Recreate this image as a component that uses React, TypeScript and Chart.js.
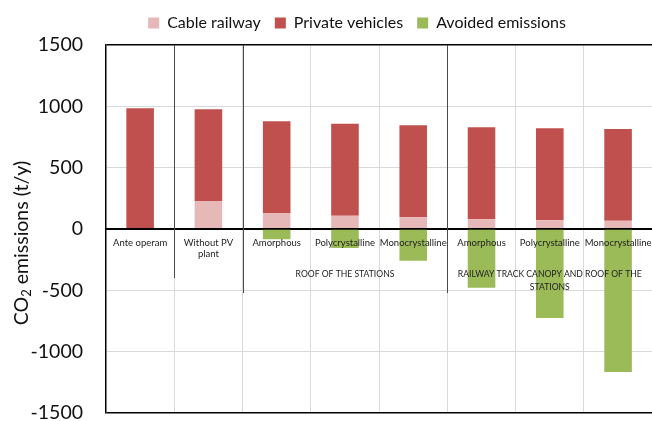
import React, { useEffect, useRef } from "react";
import { Chart, registerables } from "chart.js";

Chart.register(...registerables);

const categories: (string | string[])[] = [
  "Ante operam",
  ["Without PV", "plant"],
  "Amorphous",
  "Polycrystalline",
  "Monocrystalline",
  "Amorphous",
  "Polycrystalline",
  "Monocrystalline",
];

const cableRailway = [0, 228, 130, 108, 95, 80, 72, 67];
const privateVehicles = [985, 748, 748, 750, 750, 749, 749, 748];
const avoidedEmissions = [0, 0, -84, -155, -258, -478, -725, -1165];

const groupLabels = [
  { from: 2, to: 4, lines: ["ROOF OF THE STATIONS"] },
  { from: 5, to: 7, lines: ["RAILWAY TRACK CANOPY AND ROOF OF THE", "STATIONS"] },
];
const separators = [
  { at: 1, long: false },
  { at: 2, long: true },
  { at: 5, long: true },
];

const yTicks = { min: -1500, max: 1500, step: 500 };
const yTitleMain = "CO";
const yTitleSub = "2";
const yTitleRest = " emissions (t/y)";

const FONT = "Lato, 'Open Sans', sans-serif";

const extrasPlugin = {
  id: "extras",
  afterLayout(chart: any) {
    const lg = chart.legend;
    if (lg) {
      const shift = 357 - (lg.left + lg.right) / 2;
      lg.left += shift;
      lg.right += shift;
    }
  },
  afterDraw(chart: any) {
    const ctx = chart.ctx as CanvasRenderingContext2D;
    const area = chart.chartArea;
    const y = chart.scales.y;
    const zeroY = y.getPixelForValue(0);
    const catW = (area.right - area.left) / categories.length;
    ctx.save();
    ctx.strokeStyle = "#4a4a4a";
    ctx.lineWidth = 1;
    separators.forEach((s) => {
      const px = Math.round(area.left + s.at * catW) + 0.5;
      ctx.beginPath();
      ctx.moveTo(px, area.top);
      ctx.lineTo(px, zeroY + (s.long ? 64 : 49));
      ctx.stroke();
    });
    ctx.fillStyle = "#222";
    ctx.font = `8.6px ${FONT}`;
    ctx.textAlign = "center";
    ctx.textBaseline = "middle";
    groupLabels.forEach((g) => {
      const cx = area.left + ((g.from + g.to + 1) / 2) * catW;
      g.lines.forEach((ln, i) => {
        ctx.fillText(ln, cx, zeroY + 45 + i * 13);
      });
    });
    ctx.translate(22, 243);
    ctx.rotate(-Math.PI / 2);
    const big = `19.5px ${FONT}`;
    const small = `13px ${FONT}`;
    ctx.font = big;
    const w1 = ctx.measureText(yTitleMain).width;
    const w3 = ctx.measureText(yTitleRest).width;
    ctx.font = small;
    const w2 = ctx.measureText(yTitleSub).width;
    let sx = -(w1 + w2 + w3) / 2;
    ctx.textAlign = "left";
    ctx.fillStyle = "#111";
    ctx.font = big;
    ctx.fillText(yTitleMain, sx, 0);
    sx += w1;
    ctx.font = small;
    ctx.fillText(yTitleSub, sx, 5);
    sx += w2;
    ctx.font = big;
    ctx.fillText(yTitleRest, sx, 0);
    ctx.restore();
  },
};

export default function App() {
  const ref = useRef<HTMLCanvasElement>(null);
  useEffect(() => {
    if (!ref.current) return;
    const chart = new Chart(ref.current, {
      type: "bar",
      data: {
        labels: categories as any,
        datasets: [
          { label: "Cable railway", data: cableRailway, backgroundColor: "#E6B9B8", xAxisID: "x", yAxisID: "y" },
          { label: "Private vehicles", data: privateVehicles, backgroundColor: "#C0504D", xAxisID: "x", yAxisID: "y" },
          { label: "Avoided emissions", data: avoidedEmissions, backgroundColor: "#9BBB59", xAxisID: "x", yAxisID: "y" },
        ],
      },
      options: {
        responsive: false,
        animation: false,
        layout: { padding: { left: 0, right: 7, top: 1, bottom: 8 } },
        datasets: {
          bar: { categoryPercentage: 1, barPercentage: 0.404 },
        },
        plugins: {
          legend: {
            position: "top",
            labels: {
              boxWidth: 11,
              boxHeight: 11,
              padding: 14,
              color: "#111",
              font: { family: FONT, size: 16 },
            },
          },
          tooltip: { enabled: false },
        },
        scales: {
          x: {
            stacked: true,
            position: { y: 0 } as any,
            afterFit: (s: any) => {
              s.height = 0;
            },
            grid: {
              offset: true,
              color: "#D9D9D9",
              drawTicks: false,
            },
            border: { display: true, color: "#000", width: 1.5, z: 1 } as any,
            ticks: {
              z: 1,
              autoSkip: false,
              maxRotation: 0,
              padding: 8,
              color: "#222",
              font: { family: FONT, size: 9.5 },
            },
          },
          xTop: {
            type: "category",
            position: "top",
            grid: { display: false },
            ticks: { display: false },
            border: { display: false },
            afterFit: (s: any) => {
              s.height = 4;
            },
          },
          y: {
            stacked: true,
            min: yTicks.min,
            max: yTicks.max,
            afterFit: (scale: any) => {
              scale.width = 106;
              scale.paddingTop = 0;
              scale.paddingBottom = 0;
            },
            grid: {
              drawTicks: false,
              color: (c: any) =>
                c.tick && (c.tick.value === 1500 || c.tick.value === -1500 || c.tick.value === 0)
                  ? "#000"
                  : "#D9D9D9",
              lineWidth: (c: any) =>
                c.tick && (c.tick.value === 1500 || c.tick.value === -1500) ? 1.5 : 1,
            },
            border: { display: true, color: "#000", width: 1.5 },
            ticks: {
              stepSize: yTicks.step,
              padding: 23,
              color: "#111",
              font: { family: FONT, size: 19.5 },
              callback: (v: any) => String(v),
            },
          },
        },
      },
      plugins: [extrasPlugin],
    });
    return () => chart.destroy();
  }, []);
  return (
    <div
      style={{
        position: "fixed",
        left: 0,
        top: 0,
        width: 652,
        height: 421,
        overflow: "hidden",
        background: "#fff",
      }}
    >
      <canvas ref={ref} width={660} height={421} />
    </div>
  );
}
